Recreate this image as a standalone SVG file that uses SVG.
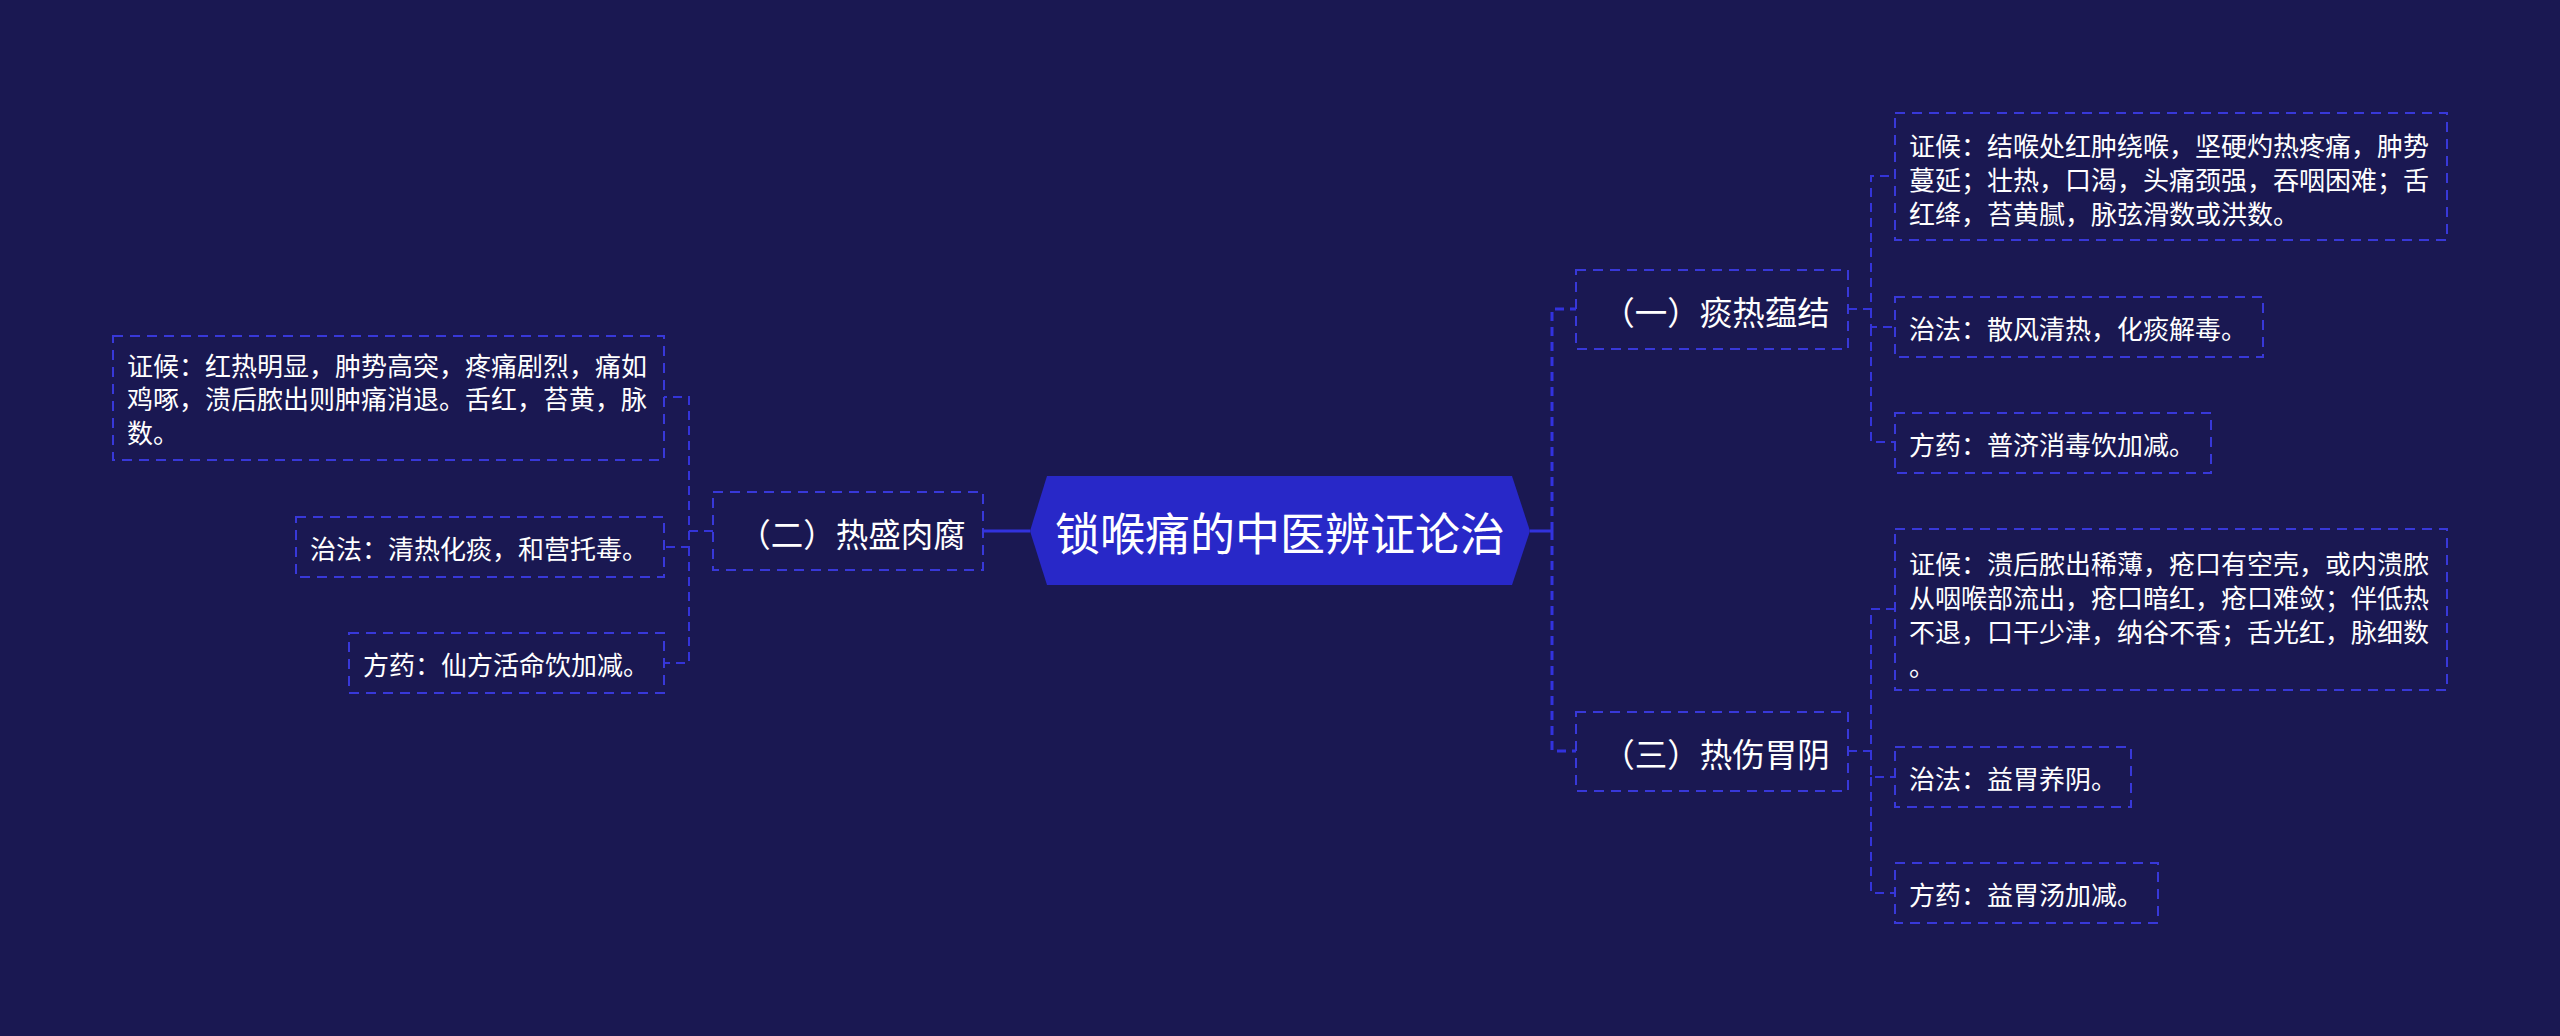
<svg xmlns="http://www.w3.org/2000/svg" width="2560" height="1036" viewBox="0 0 2560 1036">
<style>
.bg{fill:#1a1852}
.box{fill:none;stroke:#3838d8;stroke-width:2;stroke-dasharray:10 7}
.t{font-family:"Noto Sans CJK SC","Noto Sans",sans-serif;fill:#ffffff;dominant-baseline:central}
.s{font-size:26px}
.b{font-size:32.5px;text-anchor:middle}
.r{font-size:45px;text-anchor:middle}
.c1{fill:none;stroke:#3232de;stroke-width:3;stroke-dasharray:9 6}
.c2{fill:none;stroke:#3434d8;stroke-width:2;stroke-dasharray:9 6}
.solid{fill:none;stroke:#3232de;stroke-width:3}
</style>
<rect class="bg" x="0" y="0" width="2560" height="1036"/>
<g id="connectors">
<path class="solid" d="M1530,531 H1552"/>
<path class="c1" d="M1552,531 V309 H1576"/>
<path class="c1" d="M1552,531 V751 H1576"/>
<path class="solid" d="M1030,531 H983"/>
<path class="c2" d="M713,531 H689 V397 H664"/>
<path class="c2" d="M689,531 V547 H664"/>
<path class="c2" d="M689,547 V663 H664"/>
<path class="c2" d="M1848,309 H1871 V176 H1896"/>
<path class="c2" d="M1871,309 V327 H1896"/>
<path class="c2" d="M1871,327 V442 H1896"/>
<path class="c2" d="M1848,751 H1871 V609 H1896"/>
<path class="c2" d="M1871,751 V777 H1896"/>
<path class="c2" d="M1871,777 V893 H1896"/>
</g>
<g id="root">
<polygon points="1030,531 1047,476 1512,476 1530,531 1512,585 1047,585" fill="#2828c8"/>
<text class="t r" x="1280" y="531">锁喉痛的中医辨证论治</text>
</g>
<g id="b1">
<rect class="box" x="1576" y="270" width="272" height="79"/>
<text class="t b" x="1716" y="310">（一）痰热蕴结</text>
</g>
<g id="b3">
<rect class="box" x="1576" y="712" width="272" height="79"/>
<text class="t b" x="1716" y="752">（三）热伤胃阴</text>
</g>
<g id="b2">
<rect class="box" x="713" y="492" width="270" height="78"/>
<text class="t b" x="852" y="532">（二）热盛肉腐</text>
</g>
<g id="r1a">
<rect class="box" x="1895" y="113" width="552" height="127"/>
<text class="t s" x="1909" y="144">证候：结喉处红肿绕喉，坚硬灼热疼痛，肿势</text>
<text class="t s" x="1909" y="178">蔓延；壮热，口渴，头痛颈强，吞咽困难；舌</text>
<text class="t s" x="1909" y="212">红绛，苔黄腻，脉弦滑数或洪数。</text>
</g>
<g id="r1b">
<rect class="box" x="1895" y="297" width="368" height="60"/>
<text class="t s" x="1909" y="327">治法：散风清热，化痰解毒。</text>
</g>
<g id="r1c">
<rect class="box" x="1895" y="413" width="316" height="60"/>
<text class="t s" x="1909" y="443">方药：普济消毒饮加减。</text>
</g>
<g id="r3a">
<rect class="box" x="1895" y="529" width="552" height="161"/>
<text class="t s" x="1909" y="562">证候：溃后脓出稀薄，疮口有空壳，或内溃脓</text>
<text class="t s" x="1909" y="596">从咽喉部流出，疮口暗红，疮口难敛；伴低热</text>
<text class="t s" x="1909" y="630">不退，口干少津，纳谷不香；舌光红，脉细数</text>
<text class="t s" x="1909" y="664">。</text>
</g>
<g id="r3b">
<rect class="box" x="1895" y="747" width="236" height="60"/>
<text class="t s" x="1909" y="777">治法：益胃养阴。</text>
</g>
<g id="r3c">
<rect class="box" x="1895" y="863" width="263" height="60"/>
<text class="t s" x="1909" y="893">方药：益胃汤加减。</text>
</g>
<g id="l2a">
<rect class="box" x="113" y="336" width="551" height="124"/>
<text class="t s" x="127" y="364">证候：红热明显，肿势高突，疼痛剧烈，痛如</text>
<text class="t s" x="127" y="397">鸡啄，溃后脓出则肿痛消退。舌红，苔黄，脉</text>
<text class="t s" x="127" y="431">数。</text>
</g>
<g id="l2b">
<rect class="box" x="296" y="517" width="368" height="60"/>
<text class="t s" x="310" y="547">治法：清热化痰，和营托毒。</text>
</g>
<g id="l2c">
<rect class="box" x="349" y="633" width="315" height="60"/>
<text class="t s" x="363" y="663">方药：仙方活命饮加减。</text>
</g>
</svg>
